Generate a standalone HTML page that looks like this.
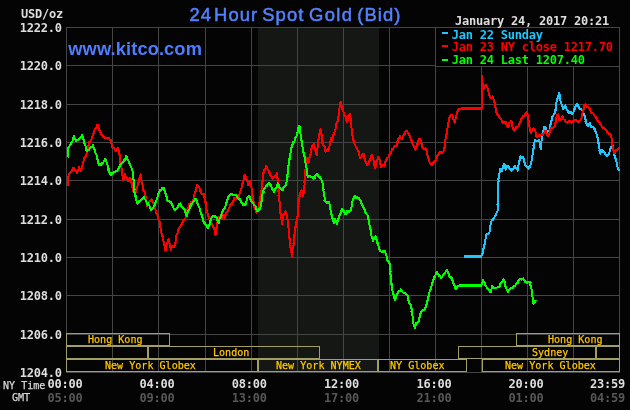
<!DOCTYPE html>
<html lang="en"><head><meta charset="utf-8"><title>24 Hour Spot Gold (Bid)</title>
<style>
html,body{margin:0;padding:0;background:#050405;}
#c{will-change:transform;position:relative;width:630px;height:410px;overflow:hidden;background:#050405;}
.chart{position:absolute;left:0;top:0;display:block;}
.t{position:absolute;white-space:pre;color:#dedede;line-height:1;margin:0;padding:0;transform-origin:0 0;}
.b{font-family:"DejaVu Sans Mono","Liberation Mono",monospace;font-weight:bold;font-size:12px;letter-spacing:-0.224px;margin-top:-1.0px;}
.s{font-family:"DejaVu Sans Mono","Liberation Mono",monospace;font-weight:normal;font-size:11.3px;letter-spacing:0;margin-top:-0.7px;margin-left:0.4px;transform:scaleX(0.891);-webkit-text-stroke:0.25px currentColor;}
.title{font-family:"Liberation Sans",Arial,sans-serif;font-size:18.4px;color:#5482ff;left:189.5px;top:6.4px;letter-spacing:1.1px;-webkit-text-stroke:0.5px #5482ff;width:220px;height:22px;}
.title span{position:absolute;top:0;}
.site{font-family:"Liberation Sans",Arial,sans-serif;font-weight:bold;font-size:18.3px;color:#4f7dff;left:68.3px;top:40.4px;letter-spacing:0.1px;}
</style></head>
<body><div id="c">
<svg class="chart" width="630" height="410" viewBox="0 0 630 410">
<rect x="258" y="28" width="121" height="344" fill="#141713"/>
<path d="M66.5 27V373M112.5 27V373M158.5 27V373M205.5 27V373M251.5 27V373M297.5 27V373M343.5 27V373M389.5 27V373M435.5 27V373M481.5 27V373M527.5 27V373M573.5 27V373M619.5 27V373M66 27.5H620M66 65.5H620M66 104.5H620M66 142.5H620M66 180.5H620M66 219.5H620M66 257.5H620M66 295.5H620M66 334.5H620M66 372.5H620" stroke="#454545" stroke-width="1" fill="none" shape-rendering="crispEdges"/>
<rect x="435.5" y="27.5" width="184" height="39" fill="#000" stroke="#454545" stroke-width="1" shape-rendering="crispEdges"/>
<path d="M66.5 333.5H169.5V345.5H66.5ZM516.5 333.5H619.5V345.5H516.5ZM66.5 346.5H147.5V358.5H66.5ZM148.5 346.5H319.5V358.5H148.5ZM458.5 346.5H595.5V358.5H458.5ZM596.5 346.5H619.5V358.5H596.5ZM66.5 359.5H257.5V371.5H66.5ZM258.5 359.5H377.5V371.5H258.5ZM378.5 359.5H466.5V371.5H378.5ZM482.5 359.5H619.5V371.5H482.5Z" stroke="#a39f63" stroke-width="1" fill="none" shape-rendering="crispEdges"/>
<clipPath id="pc"><rect x="67" y="28" width="553" height="344"/></clipPath>
<g clip-path="url(#pc)">
<polyline points="464.5,256.5 465.5,256.5 466.5,256.5 467.5,256.5 468.5,256.5 469.4,256.5 470.4,256.5 471.4,256.5 472.4,256.5 473.4,256.5 474.4,256.5 475.4,256.5 476.4,256.5 477.3,256.5 478.3,256.5 479.3,256.5 480.3,256.5 481.3,256.5 481.8,255.1 481.7,255.5 482.1,254.3 482.4,253.6 482.8,252.9 482.5,250.9 483,251.3 482.9,250.2 483.5,248.7 483.6,247.8 484.1,246.5 483.8,246.9 484.3,244.5 484.4,245.3 484.7,243.1 484.8,242 485.2,242 485.4,241 485.3,239.7 485.6,238.8 485.5,238 486,238.1 485.9,236.9 486.5,236.6 486.3,234.1 486.6,233.9 487.4,234 488,234.1 488.8,233.7 489.4,232.8 489.6,231.5 489.9,231.7 489.8,230.1 489.7,228.4 490,228.8 490.2,226.8 490.4,226.9 490.3,225.4 490.5,224.7 491,223.8 491.1,222.9 491.2,221.9 491.9,220.1 492.1,220 492.8,220.1 493.2,218.3 494,217.7 494.7,216.9 494.9,216.6 495.2,216 496.1,214.6 496.3,213.8 496.5,213.1 496.8,211.7 496.7,212.1 497.5,211 497.5,209.6 497.7,209.4 497.6,208.3 497.5,206.9 497.8,205.1 497.4,205.1 497.6,204.1 497.6,202.9 497.8,202.3 497.7,201.5 497.6,199.5 497.8,198.9 498,199.2 497.8,197.6 498,197.1 498.1,195.2 497.7,194.9 497.7,192.8 497.8,193.1 498.1,190.9 497.8,190.4 498.1,189 498,188.1 498.1,188 498.2,186.3 498.2,184.8 498.1,184.5 498.6,183 498.2,182.7 498.4,181.7 498.7,180.9 498.4,178.9 498.9,178.1 499,177.1 499.1,177.1 499.4,175.3 499.3,175.3 499.4,173.8 499.7,172.3 499.9,171.7 500.1,170.6 500.2,169.2 500.5,169 501.3,170.6 501.8,170.3 502.1,171.4 502.5,170.1 502.4,170 502.4,168.2 502.6,168.4 503.3,167.4 503.2,165.9 503.4,165.2 504.3,165 504.4,163.5 504.6,164.8 504.7,165.1 505.1,165.7 505,167 505.4,167.3 505.5,168.5 505.7,169.8 506.1,168.7 505.9,169 506.3,166.9 506.7,167.6 506.8,165.9 507.4,165.6 508.4,165.9 509,167 509.1,168.2 509.7,168.9 510,169 510.8,169.5 511.2,169.6 511.6,170.6 511.9,169.1 512.5,169.8 513.2,168.3 513.8,168.2 514.1,167.7 514.6,166.2 515.2,165.9 515.7,167.3 516.2,168.3 516.4,167.6 516.8,169 517.1,169.1 517.9,170.6 518.3,168.8 518.4,169.1 518.4,167.4 518.4,167.2 518.4,165.8 518.6,163.9 518.9,164.4 519,162.7 519.2,162.5 519.6,160.4 519.4,160.5 519.6,159.3 520.3,157.3 520.3,157.1 520.9,156.3 521.9,158 522.7,157.1 522.8,157.2 523.5,158.2 523.9,158.8 524.3,160.1 524.3,161.1 524.4,162.6 524.8,162.3 525.2,162.8 525.1,163.5 525.5,166 525.9,165.9 526.5,166.7 526.8,166.8 528,168.4 528.3,168.3 528.5,168.5 529.3,166.6 529.8,167.4 530.2,165.9 530.5,165.3 530.7,163.6 530.7,162.8 530.9,161.5 531.2,162.2 531.6,160.7 531.7,159.5 531.8,159.4 531.9,157.4 532.4,156.5 532.2,156.7 532.5,154.8 532.7,154.3 532.5,152.8 533,152.4 532.8,150.9 532.9,150.5 533.4,148.7 533.6,148.1 533.7,147.4 533.6,145.8 533.4,146 533.6,145.3 534.2,144 534,142.5 534.4,142.3 535.1,140.2 535.6,140.1 536.3,140.9 536.9,140.8 537.6,140.8 538.7,140.1 539.3,140.6 539.7,142.2 539.8,142.5 540.1,144 539.9,144.6 540,145.1 540.5,146.5 540.3,146.6 540.8,148.7 540.8,148.8 540.9,147.9 541,147.5 541,145.6 540.9,144.4 541.3,144.1 541.1,143 541.3,141.6 541.6,140.9 541.6,139.3 541.9,139.7 542.1,138 541.9,136.8 542.4,136.4 542.5,135.7 542.7,134.5 543,133.9 543.1,132.2 543.1,131.8 543.5,130.7 543.9,130.7 543.9,128.7 544,128.2 544,126.7 544.6,126.8 545.4,127.6 545.8,127.8 546.2,129.2 546.6,130.7 547.5,131.1 547.8,131.6 548.5,130.8 548.9,131 549.4,130 549.8,129.7 549.8,129 549.9,126.6 550.2,125.8 550.1,125.8 550.6,124.4 550.9,123.8 550.9,122.4 551.2,121.1 551.5,120 551.5,120.5 551.8,118.7 551.5,119 551.9,117.3 552.6,117 553,116 553.6,114.8 553.8,114.1 554.1,114.2 554.6,113.1 554.9,111.2 555.4,111 555.7,109.4 555.4,110 555.6,108.5 555.7,106.7 556,106 555.8,104.7 555.8,104.6 556.2,103.8 556.4,103.1 556.4,102.6 556.8,100.7 557,99.7 557.2,98.8 557.3,98.3 557.8,97.9 557.9,97.3 558.4,95.5 558.5,95.1 558.6,93.4 559,92.7 559.4,92.9 559.5,93.8 559.8,95.5 560,96.8 559.9,96.5 559.9,98.2 560.2,99 560.4,100 560.4,101 560.9,101.8 561.1,102.5 561.4,103.8 561.8,105.2 562,105.7 562,106.4 562.3,106.6 563,108.6 563,109.4 563.4,109.2 563.7,108.7 564.1,107 564.6,106.8 565.2,105.4 565.8,106.6 565.6,106.6 566.2,108 566.2,108.3 566.8,109.4 567.2,110 567.8,110.8 568.1,111.9 568.4,112.5 569.2,112.9 569.9,112 570.5,111.7 571.1,112.8 571.5,113.5 572.1,114.1 572.6,113.6 573.1,113.3 573.5,112.4 573.7,111 574.1,110.8 574.2,109.1 574.8,109 574.7,107.9 575.2,107 575.7,106.8 576,105.3 576.9,104.6 577.3,103.8 577.6,104.5 577.8,105.7 578.8,106.2 578.9,107 579.4,108.1 580,108.9 580.5,109.4 581.3,109.1 582.4,109.8 582.6,111.4 583.2,110.8 583.3,112.4 583.8,113.3 584,114.1 584.3,114.5 584.7,116.4 584.8,116.6 585,117.5 585.2,118.9 585.6,119.3 585.5,121.5 586.1,121.3 586.3,123.1 586.3,123.7 587.1,123.6 587.3,125.5 587.9,126 588.6,125.1 588.8,125 589.3,123.9 590,122.9 590.2,124.5 590.6,125.2 590.5,125.4 590.7,126.1 591.1,126.8 592,126.4 592.9,127.1 593.5,127.6 594.1,127.9 594.3,129.6 594.9,129.3 595.4,130.8 595.4,131.6 595.7,131.8 596.4,133.4 596.2,133.5 596.9,135.2 597,135.6 597.3,137.3 597.6,137 597.7,137.5 597.7,138.3 597.9,139.9 598,140.2 598.4,142.2 598.6,142.5 598.5,143.6 598.7,144.9 599.2,145.6 598.8,147.3 599.4,148 599.2,148.1 599.6,149.6 599.5,150.4 599.9,151 599.6,152.5 599.7,153.5 600.2,153.6 600.7,152.2 600.9,151.2 601.4,150.5 602,151 602.2,149.6 602.5,149.6 603,151.8 603.5,151.6 604.3,152.8 604.6,152.9 605.5,154.6 606.2,155.5 606.5,156 607.1,155.8 608.2,155.2 608.6,154.4 608.7,153.9 609.4,152 609.3,152.2 609.7,151.4 609.7,150.4 610.2,149.6 610.4,148.5 610.9,147.5 611,147.1 611.3,146.8 611.6,146 611.7,144.8 612.3,145.2 612.6,145.8 612.9,147.8 612.7,147.2 613.3,148.8 613.5,150.3 614,150.4 613.9,150.7 613.9,152.3 614.4,153.1 614.2,154.9 614.5,155.1 614.9,156 614.9,157.4 615.3,157 615.5,159.1 616,158.9 616.3,161.1 616.2,161 616.5,162.3 616.8,162.8 616.9,163.8 617.5,165.6 617.2,166.1 617.6,167.1 618,168.7 618.1,168.7 618.6,170.1 618.9,170.2" fill="none" stroke="#1ec8ff" stroke-width="2" stroke-linejoin="round" stroke-linecap="square" shape-rendering="crispEdges"/>
<polyline points="67.6,179.5 67.9,181.2 67.5,180.5 67.9,182.8 67.8,183.3 68,184.1 68,184.8 67.8,184 68,182.9 68.3,182.5 68.1,182 67.9,180.1 67.8,178.5 68,178.3 68.1,177.5 68.6,176.5 68.7,175.9 69.2,175.1 69.3,173.8 69.7,173.2 70.7,172.7 70.8,171.9 71,171.4 71.7,171 72.2,169.9 72.5,169.2 72.7,167.9 73.8,168.2 74.1,169.8 75.1,169.5 75.7,170.8 76.1,171 76.9,171.9 77.1,172.7 77.6,171.8 78,170.6 78,170.6 78.6,169.1 78.7,168.4 79,167.1 79.3,167.4 79.6,169.1 80.1,170.2 80.5,171 81,171.1 81.3,171 81.4,169.3 81.7,168.7 81.7,167.2 82.3,166.6 82,165.9 82.5,164.8 82.9,164.5 82.8,163.8 82.9,162.6 83.3,161.5 83.9,159.9 83.9,158.8 84,159.2 84.6,157.2 84.6,156.8 85.5,156.3 86.2,156 86.3,154.3 86.7,153.6 87.1,152.6 87.1,151.6 87.1,150.7 87.2,151.2 87.7,149.2 87.8,148.9 87.7,147.8 88,148 88.3,145.4 88.7,145.5 88.7,143.7 89,142.7 89.3,143.1 89.4,141.7 90.1,141.8 90.5,141.2 90.7,139.9 91.4,139.4 91.6,138.8 92,136.8 92.1,137.3 92.6,135.8 92.8,134.8 93.3,133.8 93.5,133.8 93.9,132.4 94.4,130.6 94.4,130 94.8,129 95.4,128.4 95.7,128.3 96.5,127.4 96.9,127.3 97.1,125.2 97.6,124.8 98,125.2 98.4,126.7 98.4,127.7 98.8,128 98.8,128.1 99.4,129.8 99.5,130.4 99.9,131.8 100.2,131.5 100.5,132.5 101,133.8 101.4,134.3 101.6,135.4 102.5,135.1 103.1,136.8 103.7,136.2 104.3,136.7 104.6,137.5 105.4,137.9 106,138.6 106.6,137.8 107.5,138.6 108.4,137.8 109.3,138.4 109.5,139.2 110.1,140.5 110.8,140.2 111.1,140.2 111.1,141.3 111.5,143.5 111.6,142.9 111.8,144.5 112.1,145 112.1,145.6 112.4,147.3 113.3,147.7 113.8,147.7 114.2,148.5 114.8,149.7 115.3,150 115.7,151.2 116.3,151.3 116.5,149.8 117.3,148.9 117.8,149.2 117.9,148.1 117.8,149.3 118.5,150.2 118.6,151.2 118.8,151.4 118.9,153.1 119.3,153.5 119.5,154.4 119.8,156.2 119.9,157.1 119.6,156.9 119.7,158.2 120,159.1 120,160.9 119.8,161.7 120.4,161.8 120.2,162.4 120.3,164 120.3,164.1 121.1,166.5 120.9,167 121.2,167.3 121.7,168.9 121.9,169.5 122,170.3 122.2,170.7 122.4,173.1 122.4,172.5 122.3,174.6 122.6,175.8 122.7,176.4 123,177.9 122.8,178.1 122.8,178.8 123.2,179.8 123.7,179.1 123.8,177.4 124.1,177 124.7,176.5 124.8,175.6 125.1,174.3 125.3,175.9 125.8,176.3 126.3,177.2 126.5,177 126.7,178.3 127.2,178.9 127.6,180.7 127.9,179.7 128.3,181.4 128.8,181 129.1,180.1 129.5,178.2 129.6,178.7 129.8,177.5 130.4,179.2 130.6,178.7 130.6,180.8 131.1,181.7 131.4,182.2 131.8,182.5 131.8,183.3 131.8,184.7 132.1,185.9 132.6,186.1 132.2,186.8 132.8,188.4 133,189.6 133,190.2 133.4,191 133.5,191.5 133.7,192.5 134.4,192.6 134.6,194.1 135.1,192.7 135.2,193.1 135.7,192.1 135.7,191.6 136.2,190.2 136.4,188.7 136.6,188.4 137,186.7 137.2,187.5 137.5,185.8 138,184.8 138.2,183.6 138.4,183.1 138.6,182.2 138.6,182.1 138.9,181 139.4,179.8 139.4,179 139.5,178.4 139.9,177.2 140.4,176.1 140.5,175.7 140.6,174.3 140.6,174.9 140.8,176.1 141.4,176.7 141.4,177.4 141.3,178.8 141.3,179.7 141.5,180.9 141.8,181.8 142.3,183.6 142.2,183.8 142.5,184.6 142.5,186.4 142.6,185.8 143.1,186.8 143.1,188.1 143.2,189.7 143.7,190.7 143.8,191 144.3,191.7 144.7,192.5 144.8,194.5 145.3,195 145.5,196 145.7,196.5 146.1,198.1 146.2,198.9 146.2,199 146.1,200.6 146.2,201.1 146.4,203 146.8,203.1 147,203.5 146.6,204.4 147,206 147.3,205 148,205.2 148.1,204.1 148.4,203 148.9,202.1 149.4,202.1 150.2,200.5 150.6,199.7 151.3,199.7 151.6,199.4 151.7,201 152.1,200.3 152.5,201.3 152.8,202.1 153,202.9 153.5,204.1 153.7,205.2 154.3,205.7 154.2,206.1 154.7,208.4 154.8,209.2 155.5,209.6 155.6,210.5 156.1,211.1 156.2,212.5 156.5,214.1 157,214.1 157.5,214.8 157.6,216 157.9,217.1 158.4,217.9 158.5,219.6 158.5,219.5 158.6,220.5 159.4,220.7 159.6,221.6 159.8,223.5 159.7,223.3 159.8,225.5 160.3,225.9 160.4,226.1 160.4,227.1 160.6,228.8 161.1,230.3 161.4,229.5 161.4,230.7 161.3,232.2 161.5,232.9 161.9,233.8 162.4,234.2 162.3,236.2 162.7,236.8 162.7,236.8 162.7,237.6 162.9,238.5 163.1,239.3 163.5,241 163.8,241.7 164.1,243.5 164.1,244.2 164.1,245.6 164.6,245 164.5,246.9 164.7,247.4 165,248.5 165.4,249.4 165.4,250.5 165.6,250.1 165.6,248.6 166.2,248.2 166.3,246.4 166.4,246.3 166.5,244.2 166.7,244.1 166.8,242.6 167.4,242.4 167.8,241.5 168,240.7 168.3,239.4 168.8,239.5 169.1,241.9 168.9,242.4 169.3,242.6 169.8,244.1 170,245.3 170.3,245.4 170.4,247.8 170.2,247.8 170.7,248.2 170.6,249.7 170.8,249.3 171.3,248.8 171.5,247.1 171.9,246.9 172.2,245.7 172.5,246.5 173.1,247.1 173.8,247.3 174,247.2 174.5,245.4 174.8,244.7 175.1,244.1 175.1,243.9 175.5,242.6 175.5,241.7 175.6,240.1 175.6,239.1 175.9,237.6 176,236.6 176.2,236.2 176.4,235.4 176.9,233.8 176.9,234.1 177.5,232.8 177.8,232.3 177.8,230.4 178.3,229.8 178.7,229.6 179.5,227.4 179.6,226.9 180.2,226.7 180.6,225.6 181.1,225.5 181.7,224.2 182.2,223.5 182.3,223.3 182.7,222 183.4,220.5 183.5,220.1 184.1,219.5 184.9,219 185.2,218.5 185.7,217.6 186.2,217.2 186,215.2 186.6,215.7 186.7,213.5 186.9,213.8 187.1,212.6 187.3,211.3 187.4,209.9 187.9,208.7 188.1,207.9 188.2,207.4 188.4,207.6 188.6,205.8 188.9,204.9 189.3,203.8 190.3,203.8 191,202.4 191.3,202.5 191.6,202 192.4,201.3 192.9,200.2 193.7,199.4 193.9,198.5 194.1,198.1 194.4,197.1 194.2,195.3 194.4,194.9 194.7,193.4 195.1,193.2 195.2,192.2 195.7,191.6 195.7,189.7 196,188.8 195.9,188.5 196.5,187.4 196.9,186.8 196.8,185.7 197.1,185.1 197.7,186.5 198.3,185.6 198.9,186.7 199.2,187.5 199.7,188.7 199.8,190 199.9,191.1 200.7,190.9 200.9,191.2 201.1,193 202.1,194.2 202.6,194.2 203.7,193.8 204,194.8 204.1,195.5 204.1,197.1 204.6,196.6 205,199.2 204.9,199.6 205.2,200.2 205.1,201.9 205.7,201.6 205.6,203.8 205.6,204.7 205.7,205.1 206,205.4 206.3,206 206.3,207.8 206.4,209 206.8,209.7 207,210.6 207.4,211.3 207.4,211.7 207.5,213.2 207.8,215 208,215.1 208.5,215.8 208.4,216.8 209,217.9 209.4,217.4 209.7,217.9 210.3,219.2 210.7,219.3 211,221.9 211.1,222.1 211.5,222.8 211.7,223.7 212.2,224.8 212.7,225.1 213.1,227.2 213,227.4 213.8,227.6 214,229.6 214.3,229.5 214.6,230.5 214.8,230.7 215.1,231.8 215.1,232.8 215.2,233.9 215.4,234.6 215.8,233.6 215.6,233.1 216.1,231.7 216.1,231.2 215.9,230.6 216.3,229 216.7,227.8 216.5,227.7 216.7,225.9 217.1,225.2 217.1,224.4 217.3,223.7 217.7,221.6 217.8,221.6 218.4,220.4 218.3,220.1 218.6,219.4 218.9,217.5 219,216.8 219.8,217.9 220.2,218.3 220.3,218.4 221.1,219.2 221.2,218.3 221.8,218.4 222.4,217 222.8,215.4 223,215.2 223.3,215.7 224,217 224.6,217.6 224.9,217.4 224.9,215 225.5,214 225.6,214.3 226.2,212.7 226.5,212.1 227.3,212 227.6,211.2 227.9,209.8 228.6,208.9 228.7,208.3 229.5,206.9 229.7,206.6 229.8,205.6 230.3,204.9 230.6,204.1 231.4,203.4 231.7,204.4 232.5,203.3 233,201.9 232.9,201.9 233.1,200.7 233.6,200.3 233.6,198.7 234.1,197.8 234.9,197.9 235.5,198.1 236.5,198.6 237.4,198.5 238.1,199.4 238.6,199.2 238.8,197.7 238.7,195.9 238.9,196 239.6,194 239.7,193.8 239.8,192.3 240.4,191.8 240.7,190.2 240.8,189.8 240.8,189.2 241.3,188.3 241.3,188.2 242,187 242.3,185.5 242,183.9 242.2,183.7 242.7,183.4 242.9,181.9 243,181.6 243.6,179.3 243.6,178.7 244,177.7 244,177.4 244.3,175.7 244.4,176.2 244.9,174.8 245.3,175.3 245.7,176.9 246.1,177.9 246.4,177.9 246.5,179.5 246.6,179.6 247.3,180.7 247.7,182.3 248,184.1 248,184.4 248.4,185.1 248.9,185.1 249.2,182.9 249.3,181.8 250.1,182.1 250.3,181 250.6,182.6 250.8,182.3 250.9,184.8 250.9,184.8 251.3,185 251.1,187.6 251.8,188.3 251.9,188.5 251.9,189.7 251.9,190 252.3,191.7 252,192.6 252.4,194.3 252.3,195 252.3,195.1 252.6,195.8 252.9,197.1 252.8,198.9 253,199.2 253.3,200.8 253.2,200.7 253.6,202.7 253.8,201.9 253.8,203.4 253.9,204.9 254.3,204.9 254.2,207 254.6,207.1 255,208.6 255.2,208.4 255.5,210.1 255.6,210.9 255.8,211.8 256.2,212.7 256.7,212.1 257.1,210.9 257.8,211.1 258,209.9 258.4,209.3 258.5,207.8 258.5,206.9 259.2,205.6 259.3,206.1 259.1,203.7 259.5,202.7 259.8,202.4 259.6,201.3 260.2,200.4 260,200.2 260.5,197.8 260.4,197.6 260.5,196.2 260.6,195.5 260.9,194.5 260.9,194.6 261.1,193 261.4,192.8 261.4,191.3 261.3,191.2 261.5,190 261.7,188.7 261.7,187.7 261.6,185.9 262.2,186.5 261.8,184.8 262.1,184.5 262.3,182.9 262.1,181.4 262.5,181.7 262.5,180.2 262.6,180.1 263,179.1 263.1,177.3 262.8,175.8 262.9,176 263.4,174.5 263.2,173.8 263.3,173 263.9,171.7 263.8,170.6 264.1,169.9 264.7,169.9 265.2,168.8 265.4,168.2 265.8,167.3 266.2,165.9 266.5,166.2 266.8,167 267.4,168.5 267.6,169.8 268.3,169.8 268.4,171.1 268.8,171.1 269.3,173 269.4,172.9 269.8,173 270.2,174.6 270.6,176.3 271.3,176.5 271.5,176.2 271.9,177.7 272.5,178.6 273.4,177.9 274.2,176.9 274.9,177 275.4,175.8 275.8,174.8 276.2,174.5 276.5,174.6 276.8,173 276.8,173.1 277.1,175.7 277.1,176.2 277.5,177.5 277.4,177.8 277.2,177.8 277.7,178.9 277.8,181 277.5,182 277.7,181.4 278,182.3 278.1,184.1 278.4,185.9 278.3,185.4 278.4,187.4 278.2,187.9 278.7,189.8 278.5,190.4 278.4,190.2 278.5,191.6 278.8,192.5 278.6,194.3 278.5,195.7 278.9,196 279.1,197.8 279,198.2 279.5,199.2 279.1,199.3 279.3,201.3 279.6,201 279.5,202.2 279.5,203.3 279.9,205.2 280,205.6 279.9,206.8 280.4,207.9 279.9,209.2 280,208.9 280.3,210.1 280.3,211.1 280.3,212.3 280.6,213.9 280.6,214.9 280.6,215.3 281,216 281.1,216.5 281.1,217.3 281.3,219.1 281.2,219.3 281.6,220.6 281.5,221.7 281.7,222.5 281.9,223.8 282.1,222.2 282.2,221.8 282.7,220 282.4,219.1 283,218.6 283.1,218.8 283.3,216.5 283.1,215.2 283.5,215.1 283.9,213.6 284.3,213.7 284.8,213.5 284.8,212.3 285.4,211.1 286,212.6 285.8,213.3 286.4,213.9 286.5,214.4 287.2,215.6 287.3,215.9 287.3,217.3 287.2,218.2 287.3,219 287.4,218.7 288,220.8 287.9,221.4 288.1,222.5 288.2,224.1 287.8,223.9 288,225.9 288.4,226.5 288.3,227 288.2,227.3 288.7,228.7 288.9,230.4 288.7,230.3 288.7,232.3 288.7,232.7 288.9,234.1 289.1,234.4 289.3,235 289.2,236.2 289.4,237.6 289.4,238.1 289.7,239.4 289.6,240.6 289.9,241.2 289.9,241.1 289.9,242.9 289.9,243.1 290.4,245.2 290.4,246.6 290.6,247.3 290.5,247.6 290.8,248 291,250.2 291.2,250.1 291.2,251.3 291.5,252.8 291.7,252.7 291.6,253.6 292.2,255.9 292.1,256.3 292.4,254.9 292.3,253.9 292.2,253.2 292.6,252.4 292.4,252.3 292.5,250.3 292.7,249.2 293.2,249.4 293.1,247.4 293.2,247 293.3,246 293.7,245.8 293.4,243.2 293.7,243.1 293.9,242.1 293.8,240.4 293.7,240.7 294.1,238.6 294.1,237.5 294,236.5 294.5,235.9 294.5,235.5 294.4,234.5 294.6,233.3 294.8,233.3 294.6,231.8 295.1,230.2 295.3,230.6 295.5,228.1 295.5,227.5 295.3,226.6 295.7,226.8 295.9,225.4 296.2,224.7 296.2,223.8 296.4,222.4 296.5,221.4 296.7,221.5 297.1,220.5 297.3,219.1 297.3,218.3 297.1,217 297.6,217 297.8,215.8 297.6,214.2 298,213.6 298,212 297.8,212.3 297.8,209.6 298.1,209.5 298,208.9 297.9,208.5 298.1,207.5 298.2,206.7 298.4,204.4 298.6,203.8 298.2,203.9 298.4,202.4 298.6,201.4 298.6,201 298.9,199.7 299.1,198.8 299.1,197.5 299.7,196.5 299.3,195.8 299.8,194.6 299.6,194.2 300,192.9 300.5,191.9 300.9,191.9 301.6,190.5 302.1,192.2 302.1,191.5 302.5,193.3 302.5,194.9 302.6,195.7 303.2,196 303.2,195.6 303.6,193.2 303.6,194 303.6,192.7 303.8,190.8 303.7,190.9 303.8,189.1 304.3,188 303.9,186.6 304.3,186.5 304.5,185 304.6,184.7 304.7,183.9 304.3,182.7 304.6,180.9 304.6,180 305,179.3 304.9,179.5 304.8,177.6 304.9,176 305,175.1 305,175.3 305.1,173.8 305.4,173.2 305.2,172.6 305.6,170.5 305.3,170 305.7,169.4 305.5,169 305.5,166.7 305.6,165.8 305.9,166 305.9,164.3 305.8,162.6 306.4,161.9 306.4,161.3 306.2,160.1 306.2,160.5 306.6,158.8 306.7,157.9 307.1,158.5 307.1,160.4 307.5,160.3 307.8,161.6 307.9,163.1 308.3,163.5 308.5,163.4 308.7,160.8 308.8,160.8 309.2,160.5 309.2,159 309.5,157.4 309.8,157.1 310.1,156.4 309.9,155.6 310.5,154.8 310.5,153.7 311,153.1 310.8,151.7 311.2,150.7 311.4,150.1 311.5,148.5 311.6,147.9 312.1,146.6 312.5,145.5 313.1,146 313.5,144.8 313.7,144 313.7,144.4 314.1,145.9 314.5,146.6 314.9,148.1 315,148.3 315.2,149.5 315.6,150.7 315.7,151.5 315.7,152.9 316.1,153.7 316.6,153.6 316.8,155.1 316.8,154.1 316.7,152.5 316.8,151.9 317,151.8 317.2,150.3 317.5,149.9 317.3,148.9 317.6,147 317.8,146.5 317.8,145.3 317.7,144.7 317.9,144 318.2,142.5 318.2,142.1 318,141.8 318.3,140.3 318.7,138.9 318.6,137.9 318.5,137.3 318.5,136.2 319,135.6 319.4,135.5 319.2,133.7 319.7,132.4 319.5,131.1 320.1,130.9 320,130 320.5,128.9 320.6,129.6 320.9,130.5 320.7,132 321.2,132.4 321.3,133.9 321.5,135.1 321.7,134.9 321.6,136 321.8,137.2 322.1,138.1 322.1,139.3 322.2,140.4 322.6,141.2 322.3,141.8 322.5,143.5 322.6,143.2 323,144.5 323.2,145.6 323.8,146.5 324.8,146.3 325.1,147 325,147.3 325.4,148.5 325.1,149.7 325.3,150.3 325.6,151.9 325.9,151.5 326.4,149.5 327.1,149.5 327.7,149.2 328,151 328.4,151.1 328.3,149.9 328.6,149.7 329.3,148.5 329.3,147.1 329.4,146.6 329.7,145.6 329.5,144.9 330,144 330,143.7 330.3,141.9 330.6,141.4 330.6,139.7 330.8,139.6 331.1,138.1 331.1,137.6 331.5,139.2 331.4,139.3 332.1,140 332.2,140.8 332.3,139.6 332.5,138.9 332.6,138.3 333.1,137.9 332.9,135.9 333.5,134.5 333.5,134.4 333.7,133.5 334.5,132 335,131.5 335.1,131.3 335.3,130.1 335.5,129.2 335.5,127.9 335.5,127 336.3,126.8 336.4,124.9 336.3,124.9 336.4,123.7 336.8,122.5 337.3,121.8 337.4,121.7 337.9,121 338.1,120.7 338,119.5 338.3,118.5 338.2,117.7 338.4,117 338.8,114.5 338.9,113.9 338.5,112.8 338.9,112.4 339,111.4 339.2,110.8 339.5,109.3 339.3,108.6 339.6,107.8 339.6,106.7 339.8,105.3 339.8,105 340.2,103.6 340.2,103.5 340.6,101.9 341.1,102.9 341.4,103.6 341.4,104.3 341.5,105.3 342.1,105.8 342.2,107.5 342.6,108.7 342.5,109.3 343.1,110.5 343,111.2 343.6,112 343.6,113.5 343.8,113.8 343.9,115 344.3,114.7 345,116.1 345.4,117 345.9,117 346.1,118.9 346.4,120.6 346.5,121.1 346.9,121.6 347,122.5 347.1,122.1 347.2,121.3 347.9,119.9 348,118.4 348.1,118 347.9,116.5 348.5,115.8 348.6,115.4 349,115.6 349.3,114.4 349.8,113.8 350.1,114.8 350,116.4 350.2,117.1 350.1,117.3 350.6,118.6 350.7,119.7 350.8,121.2 351,121.7 351.1,122.9 351,124.2 351.3,124.1 351.4,124.7 351.3,125.9 351.2,126.5 351.6,127.9 351.5,128.4 351.7,130.6 351.8,131 351.8,131.7 352.3,132 352.1,133.8 352.3,134.3 352.4,135.4 352.7,135.5 352.9,138.1 352.8,138 353.2,139 353.6,140.2 353.4,140.3 353.8,142.5 354,142.5 354.4,144 354.8,144.8 355.2,145.3 355.7,146.5 355.9,147.4 356.3,147.3 356.5,147.6 357.1,148.8 357.5,150 357.8,151.3 358.3,151.3 358.6,151.3 358.6,153.4 358.9,154.4 359.3,155.6 359.6,156.6 359.6,157 360.3,158.2 360.3,158.4 360.7,157 361.3,156.2 361.7,156.7 361.9,155.2 362.4,155.2 362.7,154.4 363.5,153.7 363.7,153.9 363.8,155.9 363.8,155.5 364.2,156.9 364.6,158.9 364.9,159.7 365.1,160.3 365.1,160.8 365.6,161.1 365.9,162.5 366.1,163.2 366.6,164.6 367,164.2 367.1,165.6 367.3,164.9 368.3,164.5 368.5,163.1 369,162.4 369.1,161.2 369.5,160.9 369.9,160.3 370.2,158.6 370.3,158.3 370.6,157.6 371.2,156.2 371.8,156.3 372.2,155.2 372.3,156.7 372.7,157.1 372.5,157.7 373.2,159.2 373.5,159.7 373.5,159.8 373.7,161.3 373.8,162.4 374.1,163.1 374,163.7 374.3,165 374.8,165.9 374.8,167 374.9,167.9 375.1,166.3 375.5,166.5 375.6,166 376,164 376.3,164.2 376.2,162.4 376.7,160.8 376.8,159.9 377.5,160.1 377.5,158.8 377.8,157.7 378.3,156.8 378.4,157.2 379.2,159.2 379.4,158.6 379.6,160.4 379.8,160.8 380,161.3 380.3,163.2 380,164.3 380.4,164.1 380.9,165.1 381,167 381,167.1 381.7,166.8 381.8,166.6 382.8,165.6 383,164.8 383.8,164.6 384.6,165.6 385,164.4 384.8,163.6 385.3,162.5 385.2,161.8 385.7,160.8 386.1,160.7 386.7,158.7 387.2,159.2 387.3,157.5 388.1,157.6 388.7,157.2 389.3,155.1 389.9,154.5 390.5,154.4 390.6,153.9 391.2,152.4 391.4,151.2 391.7,149.9 391.8,149.3 392.1,148.9 393,149.3 393.8,147.3 394.4,147.3 395,146.5 395.4,145.7 396.1,146.4 396.8,144.9 397.2,143.5 397.3,142.4 397.3,141.5 397.9,142.1 397.9,140.6 398.4,139.4 398.5,138.4 398.9,138.4 399.9,137.8 400,136.2 400.3,136.5 400.5,137.2 401.2,138.6 401.6,139.4 402,139.3 402.4,137.2 402.6,136.4 403.5,136 403.7,135.4 404.4,133.8 404.7,134.4 404.7,133.2 405,132.7 405.7,131.4 405.9,130.6 406.6,131.3 407.1,131.2 407.3,131.8 407.9,133 408.7,134 408.8,133.9 409.3,135.9 410,136.2 410.1,136.9 410.7,138.9 411.1,138.7 411,140.6 411.5,140 411.6,141.7 411.8,142.7 412.2,142.4 412.8,144.9 413.2,145.2 413.5,145.7 414,146.1 414.4,147.2 414.6,148.3 415.1,149.6 415.1,149.7 415.7,149.3 415.6,147.9 416,146.9 416.3,147.2 416.7,145.7 416.8,144.3 417.6,144.2 417.5,142.7 418.2,142.4 418.3,141 418.7,140 419.1,139.2 419.5,138.6 420.2,139.7 420.6,139.9 420.7,141.1 421.1,141.7 421.2,143.2 421.8,143.6 422,145 422.1,145.4 422.1,146.8 422.7,148 422.7,148.1 423.4,148.3 423.7,149.4 424.6,148.9 425.6,148.5 426.2,148.9 426.5,149 426.4,150.3 426.7,150.8 427.1,152.2 427.3,153.9 427.4,153.6 427.4,155.9 427.8,156 427.9,157.3 428.4,157.5 428.6,159.4 428.9,159.2 429.3,159.9 429.4,161.6 429.9,162.5 430.5,163.4 431.2,164 431.7,164.8 432,164.7 433,164.4 433.5,162.4 433.8,162.4 434.5,161.4 435,160.7 435.3,161.3 435.7,160 436.2,159.5 436.2,158.6 436.9,158.1 437.2,156.9 437.3,156 437.7,155 438.2,154.8 438.9,154.2 439.2,152.4 439.7,152.1 440.5,153.1 441.5,151.8 442.1,152.9 442.6,151.7 443.2,152.4 443.2,151.5 444,150.5 443.9,149.1 444.1,149.4 444.5,147 444.7,147.1 444.9,145.7 444.5,144.8 444.6,144.3 445.1,143.6 445.2,141.7 445.2,141 445.4,140.5 445.4,139.1 446,138.3 446.2,137.3 446.2,136.3 446.1,135.8 446.6,134.1 446.9,133.8 446.9,132.9 446.8,131.8 447.1,130.6 447.5,130.1 447.3,128.2 447.7,127.6 447.5,126 448.1,126.6 447.9,124.7 448,123 448.1,123.6 448.3,122.6 448.7,121 448.8,120.6 449.4,119.5 449.3,118.3 449.6,117.3 450,117.3 450.3,115.5 451,115.2 451.9,114.7 452.4,115.5 452.6,117.2 453,118.3 452.8,117.5 453.4,118.5 453.5,120.2 454,120.4 454.1,121.2 454.6,122.6 455.1,121.3 454.9,120.3 455.2,120.3 455.6,119 455.9,117.9 456.1,117.3 456.1,115.5 456.3,115.7 456.7,113.7 456.8,114 457.1,112.3 457.4,111.2 458.1,110.6 458.3,110 458.7,109.1 459.5,108.6 460.7,108.7 461.4,108.7 462.4,109.3 463.3,107.9 463.8,108.3 464.8,108.3 465.8,108.3 466.8,108.3 467.7,108.3 468.7,108.4 469.7,108.4 470.7,108.4 471.7,108.4 472.6,108.4 473.6,108.4 474.6,108.4 475.6,108.4 476.6,108.4 477.6,108.5 478.6,108.5 479.5,108.5 480.5,108.5 481.5,108.5 481.5,107.5 481.5,106.5 481.5,105.5 481.5,104.6 481.5,103.6 481.5,102.6 481.5,101.6 481.5,100.6 481.5,99.6 481.5,98.6 481.5,97.7 481.5,96.7 481.5,95.7 481.5,94.7 481.5,93.7 481.5,92.7 481.5,91.8 481.5,90.8 481.5,89.8 481.5,88.8 481.5,87.8 481.5,86.8 481.5,85.8 481.5,84.9 481.5,83.9 481.5,82.9 481.5,81.9 481.5,80.9 481.5,79.9 481.5,78.9 481.5,78 481.5,77 481.5,76 481.5,75 481.5,75.5 481.5,76.7 482.1,77.7 482.2,77.9 481.9,79.3 481.9,80.4 482.4,80.9 482.4,81.7 482.4,83 482.7,83.5 482.7,85.1 482.6,85.5 482.9,85.7 483.2,87 482.9,87.4 483.3,89 483.8,88 484.2,87.9 484.3,86.3 485,86 485.4,85.8 486.3,85 486.7,86.4 486.9,87.5 487.4,87.6 487.6,88.5 488,88.7 488.2,90.5 488.2,90.4 488.4,91.5 489,92.8 489,93.8 489.2,94.8 489.5,95.5 490.1,95.6 490.2,97.2 490.8,98 491.1,97.9 492.1,97.6 492.7,96.4 492.9,97.9 493.1,97.6 493.4,98.7 493.7,99.3 493.8,101.6 494,102 494.4,102.5 494.9,103.4 494.9,105.1 495.2,105.2 495.1,106.6 495.5,107.8 495.6,107 495.7,108.6 495.6,109 495.8,111.4 495.9,111.5 496.4,112.3 496.5,112.4 497,113.7 497.5,114.7 498,115.2 498.4,115.1 499.1,117.1 499.5,117.1 499.8,118.1 500.3,118.9 500.9,118.9 501.6,120.2 502,121.9 502.3,121.5 503.2,122.5 503.5,123.4 504.1,122.6 504.6,121.6 505.4,121.8 505.9,121.9 506,124 506.3,124.3 506.7,125 507.1,126.1 507.9,126.3 508.3,127.4 508.8,126.2 508.5,125.4 509.2,124.5 509.2,123 509.5,122.6 510.4,122.4 510.9,121.2 511.4,121.8 511.7,122 511.9,124.5 511.9,123.7 512.5,125.5 512.3,126.3 512.7,127.4 513.2,128.6 513.6,129.9 514.1,130.3 514.3,130.6 514.4,129.2 515.1,129.6 515.6,128.9 515.7,126.7 516.2,126.6 517,127 518,126.6 518.6,125.8 518.9,124.1 519.2,123.4 520,123.2 520.2,122.6 520.5,121.3 521.1,120.9 521,120.6 521.3,118.7 521.7,118.7 522.5,117.4 522.6,117.1 523.1,116.1 523.8,116.3 524.3,115.9 524.9,115.2 525.3,113.9 525.7,113.9 526.4,113.4 526.4,112.3 527,111.8 527.3,112.2 527.2,114.1 527.7,115 527.4,115.1 527.6,116.9 527.9,117.9 528.1,117.9 528.2,118.9 528.3,119.1 528.5,120.1 528.7,121.2 529,122.9 529,124.4 529,125.3 529.2,125.8 529.5,127.2 529.8,128.2 530,128.8 530.3,128.5 530.2,130.2 530.3,130.6 530.5,132.1 530.8,132.9 531.1,131.3 531.8,130.9 531.9,130.8 532.6,129.5 533.2,130.1 533.6,129.4 534,128.4 534.6,129.4 534.6,130.6 535,131.6 535.2,131.4 535.6,132.4 535.9,133.6 536,133.9 536.5,135.1 536.2,135.5 536.7,137.1 537.4,136.8 538,135.7 538.7,136.3 539.3,135.1 540,135.8 541.1,134.8 541.9,134 542.9,134.8 543.5,134 543.9,133.2 544.3,133 544.7,132.1 545.1,130.8 545.8,130.9 545.9,131.9 546.3,133.5 546.7,134 547,134.5 547.5,135.4 548.3,136.3 548.6,135.4 548.8,133.6 549.1,133.4 549.4,133.4 549.8,131.6 549.8,130 550.4,129.2 550.7,128.4 550.9,129.2 551.4,127.6 552.2,128.4 553,128.4 553.5,127.3 554,126.5 554.6,126.8 554.6,125.2 554.9,124.9 554.9,123.5 555.6,122.7 555.4,123.1 555.7,121.3 555.9,119.5 556,120.1 556.3,119.4 556.3,117.2 556.8,116.2 557,115.7 557.4,114.8 557.9,115 558.3,114.1 558.2,114.3 558.4,116.6 558.9,116.7 558.9,118.6 559.2,119.1 559.2,120.1 559.4,120.5 560,119.5 560.3,119.7 561,118.9 561.5,118.3 562,117.1 562.5,116.5 562.8,117.1 563.2,119 563.4,118.9 564.1,119.7 564.8,119.9 565.3,120.9 565.8,122.2 566.2,122.1 567.4,122.7 568.1,121.6 569,121.2 569.8,121.1 570.5,122.1 571.4,122.6 572.1,122.3 572.9,121.3 573.5,121.5 574.2,120.4 575.2,120.5 576.2,120.4 577,120.9 577.6,122.1 578.6,121.1 578.9,121.9 580,120.5 580.6,119.8 580.8,118.8 581.6,118.1 581.9,117.2 581.7,116.3 581.8,115.4 582.1,113.9 582.3,113.5 582.8,112.2 582.7,111.7 582.7,110.1 583,110.3 583.6,109.6 583.6,108 583.9,106.9 584,106.2 584.5,106.5 585.1,104.9 585.2,104.6 585.8,104.3 586,106.6 586.4,106.6 587.1,107 588,107.1 588.2,106.8 589,107.8 589.2,108 590.1,108.9 590.2,110.4 590.6,111 591.2,112.1 591.6,113 592.4,112.8 592.7,113.3 593.5,113.8 593.7,114.7 594,115.5 594.8,116.5 595.4,116.8 595.8,118.3 596.3,117.5 596.7,118.9 597.2,119.8 597.4,119.7 598,120.7 598.6,121.3 599.2,122.7 599.6,122.1 599.8,123.6 600.4,124.3 600.6,125.2 601.4,125.1 601.6,127.2 602.4,127.9 602.7,127.6 603.5,128.2 604.2,128.5 604.9,128.4 605.3,129.7 605.8,129.9 606.6,129.9 607,131.6 607.3,132.4 608.1,133.4 608.6,133.9 609,134 609.8,134.2 610.4,134.6 611,135.6 611.2,136.8 611.3,136.9 611.6,138.5 611.5,138.8 611.6,139.5 611.9,140.1 611.6,141.4 611.9,142.2 612.2,143.5 612.2,144.8 612.2,145.4 612.6,146.6 612.7,147.6 613.2,148.6 613.2,149.2 613.3,150.4 613.7,151.1 614,151.8 614.1,152.8 614.8,152.9 614.9,151.6 615.7,150.4 616.6,150.3 617.3,149.6 618,148.5 618.6,149.1 618.9,148" fill="none" stroke="#ff0000" stroke-width="2" stroke-linejoin="round" stroke-linecap="square" shape-rendering="crispEdges"/>
<polyline points="67.6,156.5 67.7,155.1 67.7,154.4 67.4,154 67.9,152 67.6,151.5 67.8,151 67.9,151.1 68.1,149.9 68.2,148.5 68.3,148.1 69.1,147.3 69.3,146.4 69.5,145.7 69.7,145.2 70.5,144.6 70.7,142.9 71.4,143.2 71.9,141.7 72.5,141.2 72.9,140.3 73.1,138.8 73.6,137.9 73.4,137.8 74,136.2 74.1,136.3 74.6,138.6 74.8,138.8 75.2,139.4 75.6,139.9 75.9,141 76.9,140.6 77.8,140.3 78.3,139.4 79.3,139.5 79.4,138.6 80.3,137.8 81.1,137.6 81.3,136.9 81.6,135.8 82.2,134.6 82.5,136.1 82.5,136.1 83.3,138 83.4,137.6 83.3,139.1 83.8,140.2 84.2,140.7 84.1,142.7 84.3,143.2 84.8,144.3 85.4,145.5 85.4,145.7 86,146.6 85.7,147.2 85.9,148.7 86.4,148.9 86.5,150.6 87,151.3 87.8,149.9 88.3,149.9 88.6,149.7 89.1,149.8 89.8,148.4 90.5,148.2 91,147.3 91.7,146.7 92.3,146.7 93,145.2 93.4,145.9 93.4,146.5 93.8,148.7 93.8,148.8 94.4,149.4 94.7,149.6 94.9,151.3 95,152.3 95.5,153.1 95.8,154 96.3,154.8 96.2,154.4 96.8,156 97.3,157.2 97.2,157.3 97.3,158.8 97.5,159.3 97.9,160.2 98,160.9 98,162.7 98.6,163.2 98.5,163.6 98.9,164.8 99.5,165.3 100.5,164.2 101.3,164.8 101.5,164.5 102.2,163.2 102.7,163.5 103,162.9 103.7,161.6 104.3,160.7 104.7,161.1 105,159.3 105.7,159.2 105.8,160.2 106.4,161.6 106.4,161.4 106.9,163.4 107,164.3 107.2,164 107.6,165.6 107.7,167 108,167.1 108.2,168.2 108.3,170 109,169.2 109.3,171.7 109.2,171.9 109.9,172.6 110,174.3 110.8,174.7 111.1,175.1 111.6,174.8 112.1,173.5 112.4,172.8 113.2,172.7 113.9,172.3 114.5,172.2 115.6,171.1 116.5,171.3 117.4,170.8 117.9,169.5 118.3,169.4 118.8,167.1 119,166.6 119.5,166.7 120.2,165.4 120.3,164.8 120.8,164.4 121.7,163.2 122.3,163 122.7,162.4 123,161.4 123.8,160.9 124.2,159.5 124.7,160.1 124.7,159.2 125.6,158.1 125.7,156.3 126.3,156.3 126.7,156.8 127.1,158 127.2,159.5 127.7,159.1 128.3,160.8 128.4,161 129.3,163.5 129.5,162.8 129.7,164.1 130.3,165.1 130.6,166.3 130.9,167.4 131.2,167.6 131.7,168.4 131.9,170.4 132.2,170.2 132.7,171.9 132.9,172.7 132.8,174.4 133,175.4 133,175.7 133.3,176.9 133.4,177.7 133.2,178.8 133.6,179.9 133.5,180.1 133.8,181.7 133.6,183.6 133.8,183.8 134.1,185.5 134,185.2 134.3,185.9 134.4,187.8 134.4,189 134.4,189.8 134.6,189.6 134.4,190.4 134.4,192.7 134.6,192.4 134.9,194.1 135,195.7 135.6,195.2 135.9,196.3 136.1,198.3 136.2,199.7 136.2,200.4 136.7,201.3 136.7,202.2 137.5,203.2 137.5,203.7 137.9,202.3 138.6,202.6 138.7,201.4 139.4,201.3 140.2,200.3 140.9,200.7 141.7,199.7 142.2,198.9 142.9,198.2 143.5,197.1 144.1,197.3 144.4,199 144.7,199.3 145.5,200 145.7,200.8 146.2,201.3 146.5,202.1 146.9,203.6 147.8,202.9 148.3,205.2 148.9,205.2 149.4,205.9 149.6,206.2 150.2,207.1 150.3,208.1 151.2,209.5 151.3,210 152,208.8 152.7,208.2 153,207.8 153.7,206.8 153.9,205.5 154.6,205.2 155.2,204.4 155.3,202.9 155.8,202.3 156.2,201.1 156.2,200.8 156.5,199.8 156.6,199.6 156.8,198.1 157.3,197.2 157.4,197.1 158.1,196 158,194.7 158.6,193.4 159.1,193.4 159,192.9 159.5,191.4 159.9,190.2 160.8,189.5 161.5,190.1 162.1,188.4 162.4,187.8 163,187.5 163.1,188.7 163.9,188.3 164,189.5 164.5,190.8 164.7,190.5 165.1,192.2 165.3,193 165.6,193.5 165.7,195.8 165.8,195.9 166.3,196.4 166.7,197 166.7,198.6 167,199.9 167.8,200.6 168.6,200.9 169,201 169.7,201.3 170.5,202.5 171.1,202.4 171.7,204.3 172.2,204.1 172.3,205.1 172.8,205.9 173.3,207.2 173.4,207.9 174,208.9 174.5,209 174.6,210.5 175,210.2 175.6,210.1 176.5,208.4 177,208.1 177.6,207.5 178,206.8 178.4,205.4 179.3,204.1 179.7,204.6 180.2,203.3 180.6,204.5 181.1,204.5 181.3,206.4 181.9,206.5 182.5,207.3 182.9,208.4 183.5,208.2 184.2,209.2 184.6,209.7 185.1,210.3 185,210.8 185.2,211.7 185.8,213.8 185.8,213.6 186.4,214.9 186.5,216 187,215.7 187,214.4 187.3,213.1 187.9,212.4 188.1,211 188.3,211.1 188.9,209.7 189.5,209.3 189.5,208.6 190,207 190.6,206.2 190.5,205.4 191,204.1 191.7,204.1 192.5,203.1 193.2,201.4 193.7,201.7 194.3,201.2 194.8,200.2 195.4,198.8 196,198.6 196.3,198.7 196.5,200.7 197.1,201.5 196.8,203 197.4,203.7 197.6,204.1 197.9,204.1 198.1,205.2 199,206.6 199.3,207 199.5,208.1 199.6,209.4 200.2,210.5 200.5,211.6 200.6,212.1 201.3,213.2 201.3,214.2 201.6,214.4 201.8,215.8 201.8,215.5 202.1,216.4 202.5,217.4 202.8,219.3 203.1,219.7 203.2,220.8 203.7,221.2 204.1,222.9 204.9,222.6 205,224.4 205.6,224.8 206.2,225.3 206.6,226.5 207.2,226.2 207.9,227.9 208.1,227.6 208.6,226.3 209,225 209.4,224.6 210,224 210,222.2 210.5,221.6 210.4,220.5 210.9,220.2 210.9,219.8 211.3,218.3 211.6,217.6 212.6,216.3 212.7,216.3 213.4,216.4 214.3,216 215,216.8 215.6,216.4 216.7,217.6 216.9,218.9 217.3,220 217.5,221.2 217.8,220.9 218.4,222.8 218.6,223.2 218.6,222.1 219.4,221.9 219.1,221 219.4,219.2 219.7,218.6 220.2,218.4 220.6,216.7 220.6,217.3 221,216.6 221.6,215.3 221.3,214.7 222,212.6 222.2,212.1 222.4,212.1 223.4,210.1 223.6,209 224.2,208.6 224.6,208.1 224.7,207.9 225.4,206.7 225.6,205.9 225.8,205.1 226,203.3 226.5,202.5 226.8,202.1 226.9,200.3 227.5,200.2 227.6,199.3 227.8,198 228,197.5 228.6,196.2 229.5,195.5 229.9,195.3 231.1,193.9 231.7,193.8 232.7,194.3 233.3,195 234.1,194.6 235,195.6 235.6,194.8 236.5,195.4 237,195.4 237.5,197.8 238.1,197.9 238.9,198.6 239.6,198.6 239.8,199.7 240.8,200.3 241.3,201.7 241.4,202.7 242.4,202.8 242.5,203.6 242.9,204.9 243.8,204.5 244.6,204.6 245.2,204.1 245.6,204.8 245.6,203.9 245.8,202.4 246,202.6 246.7,200.3 246.9,199.7 246.9,198.6 247.1,198.4 247.8,197.3 248.2,197.4 248.9,197.1 249.2,196 249.6,196.5 249.6,197.5 250.2,199 250.3,199.8 250.8,200.1 251.1,200.8 251.4,202 252.3,202.1 252.9,202.4 253.5,204 254.1,205 254.8,205.3 255.4,205.6 255.6,206 255.9,208.3 256,208.2 256.3,208.8 257,211 257.1,211.1 258,211.2 258.6,210.2 259,209.5 259.4,208.8 260,208.7 260.2,208 260.5,206.9 261,205.6 261.4,205.5 261.5,203.3 261.1,202.2 261.4,202.2 261.7,200.8 261.9,199 261.8,198.5 262.1,197.6 262,197.4 262.2,196 262.3,194.4 262.4,194 263,192.7 263.4,192.8 263.6,192.4 263.4,190.4 263.8,189.7 264.3,188.6 264.8,188.1 265.5,187 265.7,186.1 266.2,185.7 267.1,185.8 267.4,184.1 267.9,184.5 268.9,183.3 269.4,183.2 269.7,184.6 270.3,184.3 271,185.7 271.4,187 271.9,188.2 271.8,189 272.5,188.9 272.6,189.1 273.2,190.4 273.7,190.5 274.1,192.1 274.3,190.6 275,190 275,189.6 275.5,188.1 276,188.3 276.2,187.3 276.7,187.2 276.6,185.2 277.3,185.4 277.7,184.1 277.8,183.3 278,184.2 278.3,184.3 279.2,186 279.3,187.2 279.7,187.3 280.4,188.2 280.7,189.1 281.2,189.1 281.4,189.3 282.1,190.5 282.8,190 282.8,189 283.3,187.8 283.7,187.3 284.2,187.2 284.6,186.9 285.4,185.2 286,184.9 286.4,183.9 286.5,183.7 286.2,182.5 286.6,181.5 286.6,180.5 287.1,180 287.1,178 287.2,177.6 287.3,177 287.7,176.8 287.3,175.4 287.4,174.9 287.9,173 287.7,171.9 288.2,172.1 288,170 288,169 288.6,168 288.4,167.5 288.4,165.9 288.4,165.2 288.9,164.9 289,164.6 288.7,163.6 289.4,161.8 289.1,160.5 289.2,160.4 289.5,159.5 289.4,158.7 290.1,157.3 290.2,156.2 290.4,155.4 290.3,155.4 290.1,153.6 290.3,153.8 290.8,151.9 290.8,151.6 290.6,151.3 291,150.5 291,148.7 291.1,147.6 292,146.7 291.8,145.6 292.1,144.4 292.9,143.9 293,143.2 293.2,141.6 294.1,142.4 294.1,141.7 295,139.7 295.1,139.2 295.5,138.4 295.4,137.3 296.2,136.5 296.4,136.5 296.7,135.1 297,134.4 297.2,133.4 297.3,133.2 297.9,131.8 297.7,131.4 298.3,130.7 298.3,128.9 298.4,127.5 298.6,126.8 299.1,127.4 299.4,125.7 299.3,127.3 299.9,126.8 300.1,129.1 299.9,129.9 299.8,131 300.1,131.6 300.3,131.8 300.4,133.1 300.5,134.4 300.5,135.1 300.8,135.9 301.2,137.9 301.2,138.6 301.5,138.5 301.1,139.3 301.6,140.6 301.7,141.2 301.7,142.4 302.1,142.9 302,144.1 302.4,145.1 302.3,146.8 302.5,146.7 302.5,146.9 302.9,149.2 303.1,148.6 303,150.3 303.5,151 303.3,151.9 304,153.1 304.3,153.8 304.3,154.8 304.4,156.2 304.6,156.4 304.6,157.6 305.1,159 304.8,159.9 305,160.2 305,161.9 305.4,162.7 305.5,162.8 305.5,164.1 306.2,165.5 306.3,166.4 306.5,167.8 306.5,168.8 306.7,169 306.6,170.2 306.9,171.5 307.3,171.6 307,172.2 307.4,174 307.2,173.6 307.3,175 307.6,176.7 307.9,177 308.5,176.3 309.1,176.5 309.8,176.2 310.7,176.7 311.2,176.6 312.2,177 312.8,178.4 313.2,177.3 313.8,178.6 314.6,178.3 314.6,176.2 315.4,176.2 315.9,175.4 316.7,175.3 317,173.8 317.4,174.3 318,175.5 318.1,175.7 318.6,177 319.3,176.9 320.1,177.3 320.4,178.8 321,179.4 321.2,179.4 322,180.9 322,181.8 322.5,182.5 322.7,184.3 322.6,184.5 323.1,185 323,185.7 323.1,187.5 323.5,188.7 323.6,189.9 323.3,189.6 323.6,191 323.8,192.1 324.1,192.5 324.2,193.5 323.9,195.8 324.2,196.7 324.2,196.4 324.5,197.1 324.9,198.7 324.5,200.4 324.9,200.8 325.4,201.4 325.8,201.8 326.5,203.2 327.3,202.2 327.7,201.8 328.6,201.6 329,201.9 329.2,203.3 329.6,204.4 330.2,204.8 330.3,206 330.5,206 330.4,207.4 330.5,208.6 330.3,209.3 330.6,210.3 331,211.7 331.1,212.1 331.5,212.6 331.3,214.3 332,215.4 332.3,215.5 332.2,216.7 332.2,217.6 332.6,218.9 332.9,219.8 333.1,219.6 333.3,221.8 333.8,222.2 333.8,223 334,222.1 334.4,221.5 334.2,220.1 334.7,220.3 334.9,219 335.5,219.4 335.6,221.3 336.2,222.3 336.2,222.6 336.8,222.1 337,223.8 337.2,223.3 337.6,221.9 337.9,220.6 338,220.2 338.4,218.5 338.6,218.3 339.1,217.2 339.3,216.1 339.7,215.4 340.2,215.1 340.2,214.3 340.8,212.5 341.1,211.8 341.1,210.8 341.9,210.6 341.9,210.3 342.2,208.7 342.4,209.1 343,209.5 343.4,211.3 344.1,211.1 344.5,212.7 344.8,212.6 345.1,214.3 345.7,214.3 346.1,213.6 346.3,212.2 347.1,212.8 347.3,211.1 348.3,211.8 349,210.9 349.7,211.9 349.8,211.5 350.6,210.2 350.8,209.1 351.1,208 351.3,207.3 351.8,206.7 351.9,206.1 352,205.7 352.1,204.7 352.2,204 352.5,202.6 352.3,201.5 352.8,200.2 353,199.4 353,199 353.8,198.2 354.2,198 354.3,196.4 355.1,195.8 355.8,196.5 356.1,197.8 357.2,197 357.5,198.2 358.4,198.6 359.4,198.2 359.5,199.4 360.2,199.8 360.2,200.7 360.8,200.7 360.8,202.8 361.4,202.9 361.5,202.8 362,205 362.7,205.2 362.7,206.3 362.9,207.3 363.5,207.7 364.1,208.1 364.2,208.7 364.8,210.1 365.4,210.9 365.5,212.5 366.1,213 366.5,213.8 366.8,214.3 367.3,214.8 367.5,215.2 367.7,217.2 367.9,217.1 368.1,217.7 368.5,219.5 368.5,220.5 368.9,221.2 368.8,221.2 369,222.7 369.2,224 369.5,225.2 369.8,225.9 369.7,226.5 369.6,227 370.1,228.8 370.2,229.1 370.6,229.3 370.6,231.1 370.5,231.7 370.7,233.7 371.4,233.4 371.2,233.9 371.4,235.5 371.6,236.4 372,238.1 372.3,237.4 372.8,238.3 373.2,240.7 373.3,241 373.7,239.4 373.9,239.1 374.1,238.3 374.6,237.2 375.2,236.3 375.2,236.3 375.8,236.3 375.6,237.3 376.2,239.1 376.5,239.9 376.8,240.2 376.8,241.4 377.3,242.4 377.3,243.8 378,243.2 378.1,245.6 378.4,245.8 378.7,247.1 378.9,247.4 378.9,248.7 379.6,249.1 379.7,249.9 380,251.3 380.6,251.1 381.5,252.1 382.1,252.1 382.9,252.4 383.5,250.6 384.4,250.6 384.6,250.6 385.1,252.3 385.2,252.4 385.5,252.9 385.9,254.4 386.4,255.2 386.7,256.8 386.8,256.7 387.2,257 387.2,259.2 387.3,260 387.5,260 387.9,261.4 388.5,261.6 389,263.2 389.6,263 389.9,264.5 389.9,265.4 390,266.4 390,266.8 390.2,268.6 390,270.1 390.4,271 390.6,271.6 390.5,271.5 390.2,273.9 390.7,274.3 390.7,274.7 390.5,276.8 390.6,277 390.5,277.3 390.8,279.5 390.9,279.5 390.9,281.6 391.5,280.9 391.2,282.4 391.3,284.5 391.8,283.9 391.5,285.1 391.6,287.3 391.8,288.2 392,288.4 392,289 392.4,290.3 392.6,291 393,291.7 393.1,293.8 392.9,294.5 393.1,294.4 393.8,295.2 393.7,296.7 394.3,298.2 394.2,298.4 394.5,298.9 395.1,299.8 395.2,299.7 395.9,297.7 396.2,296.7 396.3,296 396.8,294.8 396.8,294.6 397.2,293.6 397.9,293.3 398.1,291.8 398.9,291.5 399.3,290.9 400.1,290.8 400.9,289.4 401.3,289.6 401.8,290.3 402.4,291.8 403,292.5 403.8,292.6 405,293.2 405.7,293.6 406.4,294.3 406.5,295.1 407.5,295.3 407.8,296.7 407.9,297.5 408.4,298.5 408.3,299.1 408.3,300 408.8,301.2 409,302 409.2,302.9 409.7,303.7 410.3,304 410.7,304.7 411.1,305.7 411.3,307.1 411.2,307.6 411.8,309 411.9,310.4 411.5,311.6 411.7,311.4 412,313 412.4,313.8 412.3,314.3 412.5,316.1 412.6,316.8 412.9,316.3 412.5,317.3 412.8,319.5 412.8,320.1 413.3,320.2 413.3,320.8 413.4,322.6 413.5,324.3 414,324.7 414.3,325.4 414,326.4 414.6,326.4 414.8,327.8 414.9,327.8 415.1,326.2 415.6,325.8 416,324.4 416.4,322.8 416.5,322.6 417.4,322.8 417.7,321.5 418.6,321.6 419,320.1 418.9,319.7 419.3,318.9 419.3,317.6 419.8,317.5 419.5,315.8 420.1,316 420.2,314.3 420.6,313.6 421,313.5 421.2,311.3 421.9,310.8 422.3,310.2 423.3,310 423.7,310.5 424.4,310.2 424.8,309.6 425.1,308.7 425.4,307.6 425.6,307.3 426,306.4 426.5,305 426.4,304.7 426.9,303.2 426.9,302.7 427.1,301 427.5,300.7 427.5,298.8 427.9,298.8 428.4,297.4 428.4,296.9 428.6,295.7 428.9,295.8 428.9,293.4 428.9,293.4 429.4,292.5 429.6,292.1 430,290.4 430.3,290 430.6,289.6 430.6,287.8 431,287.3 431.4,286.3 431.6,285.5 431.6,283.6 431.9,282.9 432.5,283.3 432.8,281.3 432.7,281.1 433.1,280.4 433.5,279 433.7,279.1 434.2,277 435,277.2 435,275.9 435.6,274.9 436,274 436.5,272.6 436.8,273.2 436.8,271.8 437.3,273 437.5,274.3 437.8,273.9 438.7,274.5 438.9,275.9 439.7,275.9 440.5,277.1 441,278 441.7,277.7 442,277.1 442.8,275.3 443.5,274.9 444.1,274 444.6,274 445.1,273.3 445.5,271.8 446.1,270.8 446.8,270.8 447.2,269.7 447.4,270.4 447.6,271.7 447.8,273 448.4,273.5 448.7,273.6 449.3,275 449.3,275.9 450,277.1 450.8,277.6 451.4,276.9 451.8,278 452.4,279.5 452.3,280.2 452.7,280.1 453,280.9 453.3,282.5 453.4,283.2 453.6,283.8 454.2,285.7 454.5,285.6 454.9,286.6 455.1,287.7 455.8,289.4 455.9,289.4 456.2,289.1 456.9,287.4 457.3,287.8 457.7,285.9 458,285.7 459,285.7 459.9,285.7 460.9,285.7 461.9,285.7 462.9,285.7 463.8,285.7 464.8,285.7 465.8,285.7 466.7,285.7 467.7,285.7 468.7,285.7 469.6,285.7 470.6,285.7 471.6,285.7 472.6,285.7 473.5,285.7 474.5,285.7 475.5,285.7 476.4,285.7 477.4,285.7 478.4,285.7 479.4,285.7 480.3,285.7 481.3,285.7 481.5,284.8 481.8,284 482.3,283.2 482.1,282.9 482.9,281.2 482.9,280.2 483.5,281.2 483.8,282.4 484.7,282.5 485.1,283.8 485.2,284.2 485.4,285.1 485.8,285.7 486.5,287.2 486.6,287.2 487.2,287.8 487.5,288.4 488.2,288.6 488.6,290.4 488.9,290.6 489.6,290.5 490,291 490.5,292.5 490.5,291.5 491.2,290.5 491.1,289.9 491.3,289.4 491.6,288.6 492.2,286.2 492.1,286 492.5,285.8 493,287.6 494,287.8 494.4,288.3 495.1,288.2 496.1,288.2 496.8,287.6 497.5,287.2 498.2,286.5 499.3,287.3 499.8,286 500,284.3 500.7,283.8 500.7,282.9 501,283.1 501.6,281.8 502.2,281.9 503,281 503.4,279.5 503.9,279.9 503.9,281.1 504.5,281.4 504.7,283.1 504.8,284.1 505,285.5 505.1,285.7 505.8,286.4 505.6,287.6 506,288.5 506.5,288.9 507.1,289.7 507.6,290.2 507.8,291.8 508.5,291.4 508.6,290.2 509.4,289.8 510.1,288.8 510.5,288.1 511.4,288.5 512.3,288.3 512.9,287.8 513.4,286.5 514.3,286.4 514.8,286.4 515.4,285.8 515.6,285 516.1,283.7 516.5,283.7 517.2,283.1 517.6,283.1 518.1,281.9 518.4,280.1 518.5,279.8 519.1,280.5 520.2,278.9 520.8,279.5 521.7,279.8 522.4,278.6 523.1,278.4 523.4,278.6 524.1,280 524.6,280.2 524.8,281.8 525.7,281.3 526.2,281.9 526.6,282.7 527.5,283 528,282 528.5,281.8 529.5,281.7 530.2,282.4 530.6,282.6 530.3,284.4 530.6,286 530.8,285.4 531.1,287.1 531.1,287.1 531.6,289.2 531.7,290 531.7,291.2 531.5,291.2 531.8,291.7 531.9,293.2 532.2,293.6 532.3,294.7 532.5,296 532.4,296.2 532.6,298 532.9,298.6 533.3,299.8 533.4,300.2 533.5,301.5 533.5,302.2 533.3,303.3 533.6,303.9 534,303 534.4,302 534.6,301.2 535.3,301.8 535.6,301" fill="none" stroke="#00ff00" stroke-width="2" stroke-linejoin="round" stroke-linecap="square" shape-rendering="crispEdges"/>
</g>
<rect x="464" y="255" width="18" height="3" fill="#1ec8ff"/>
<rect x="461" y="107" width="21" height="3" fill="#ff0000"/>
<rect x="459" y="284" width="23" height="3" fill="#00ff00"/>
<rect x="442" y="32" width="6" height="2" fill="#1ec8ff"/>
<rect x="442" y="45" width="6" height="2" fill="#ff0000"/>
<rect x="442" y="59" width="6" height="2" fill="#00ff00"/>
</svg>
<div class="t title"><span style="left:0">24 </span><span style="left:24.5px">Hour </span><span style="left:72.7px">Spot </span><span style="left:119.5px;letter-spacing:1.4px">Gold </span><span style="left:167.7px">(Bid)</span></div>
<div class="t site">www.kitco.com</div>
<div class="t b" style="left:21px;top:9px;">USD/oz</div>
<div class="t b" style="left:19.8px;top:23px;">1222.0</div>
<div class="t b" style="left:19.8px;top:61px;">1220.0</div>
<div class="t b" style="left:19.8px;top:100px;">1218.0</div>
<div class="t b" style="left:19.8px;top:138px;">1216.0</div>
<div class="t b" style="left:19.8px;top:176px;">1214.0</div>
<div class="t b" style="left:19.8px;top:215px;">1212.0</div>
<div class="t b" style="left:19.8px;top:253px;">1210.0</div>
<div class="t b" style="left:19.8px;top:291px;">1208.0</div>
<div class="t b" style="left:19.8px;top:330px;">1206.0</div>
<div class="t b" style="left:19.8px;top:368px;">1204.0</div>
<div class="t b" style="left:455px;top:16px;">January 24, 2017 20:21</div>
<div class="t b" style="left:451.8px;top:30px;color:#1ec8ff;">Jan 22 Sunday</div>
<div class="t b" style="left:451.8px;top:42px;color:#ff0000;">Jan 23 NY close 1217.70</div>
<div class="t b" style="left:451.8px;top:55px;color:#00ff00;">Jan 24 Last 1207.40</div>
<div class="t b" style="left:47.5px;top:379px;">00:00</div>
<div class="t b" style="left:47.5px;top:393px;color:#575757;">05:00</div>
<div class="t b" style="left:139.5px;top:379px;">04:00</div>
<div class="t b" style="left:139.5px;top:393px;color:#575757;">09:00</div>
<div class="t b" style="left:231.8px;top:379px;">08:00</div>
<div class="t b" style="left:231.8px;top:393px;color:#575757;">13:00</div>
<div class="t b" style="left:324px;top:379px;">12:00</div>
<div class="t b" style="left:324px;top:393px;color:#575757;">17:00</div>
<div class="t b" style="left:416.5px;top:379px;">16:00</div>
<div class="t b" style="left:416.5px;top:393px;color:#575757;">21:00</div>
<div class="t b" style="left:508.5px;top:379px;">20:00</div>
<div class="t b" style="left:508.5px;top:393px;color:#575757;">01:00</div>
<div class="t b" style="left:590px;top:379px;">23:59</div>
<div class="t b" style="left:590px;top:393px;color:#575757;">04:59</div>
<div class="t s" style="left:3px;top:381px;color:#d8d8d8;">NY Time</div>
<div class="t s" style="left:12px;top:393px;color:#d8d8d8;">GMT</div>
<div class="t s" style="left:88px;top:335px;color:#ffc800;">Hong Kong</div>
<div class="t s" style="left:548px;top:335px;color:#ffc800;">Hong Kong</div>
<div class="t s" style="left:213px;top:348px;color:#ffc800;">London</div>
<div class="t s" style="left:532px;top:348px;color:#ffc800;">Sydney</div>
<div class="t s" style="left:105px;top:361px;color:#ffc800;">New York Globex</div>
<div class="t s" style="left:276px;top:361px;color:#ffc800;">New York NYMEX</div>
<div class="t s" style="left:390px;top:361px;color:#ffc800;">NY Globex</div>
<div class="t s" style="left:505px;top:361px;color:#ffc800;">New York Globex</div>
</div></body></html>
